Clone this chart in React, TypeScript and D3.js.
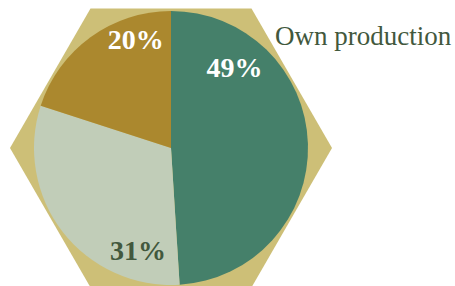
import { useMemo } from "react";
import * as d3 from "d3";

const WIDTH = 455;
const HEIGHT = 286;

// slices, clockwise from 12 o'clock
const labels = ["Own production", "Other", "Purchased"];
const values = [49, 31, 20];
const colors = ["#45806a", "#c1cdb8", "#ab882e"];
const textColors = ["#ffffff", "#42583d", "#ffffff"];
// where each percentage sits, as angle (deg, clockwise from top) and distance from the centre
const labelAngles = [38, 198, 342];
const labelRadius = [103, 107, 114];

const CX = 171;
const CY = 148;
const HEX_R = 161;
const PIE_R = 137;

export default function App() {
  const arcs = useMemo(() => d3.pie<number>().sort(null).value((d) => d)(values), []);
  const arcGen = d3.arc<d3.PieArcDatum<number>>().innerRadius(0).outerRadius(PIE_R);

  const hex = d3.range(6).map((i) => {
    const a = (Math.PI / 3) * i;
    return [CX + HEX_R * Math.cos(a), CY + HEX_R * Math.sin(a)] as [number, number];
  });
  const hexPath = d3.line()(hex) + "Z";

  return (
    <svg
      width={WIDTH}
      height={HEIGHT}
      style={{ position: "absolute", left: 0, top: 0 }}
    >
      <path d={hexPath} fill="#cdbf77" />
      <g transform={`translate(${CX},${CY})`}>
        {arcs.map((a, i) => (
          <path key={i} d={arcGen(a) as string} fill={colors[i]} />
        ))}
        {arcs.map((a, i) => {
          const ang = (labelAngles[i] * Math.PI) / 180;
          return (
            <text
              key={"t" + i}
              x={labelRadius[i] * Math.sin(ang)}
              y={-labelRadius[i] * Math.cos(ang)}
              dy="0.35em"
              textAnchor="middle"
              fontFamily="'Liberation Serif', serif"
              fontWeight="bold"
              fontSize={28}
              fill={textColors[i]}
            >
              {values[i]}%
            </text>
          );
        })}
      </g>
      <text
        x={275}
        y={45}
        fontFamily="'Liberation Serif', serif"
        fontSize={27}
        fill="#42583d"
      >
        {labels[0]}
      </text>
    </svg>
  );
}
